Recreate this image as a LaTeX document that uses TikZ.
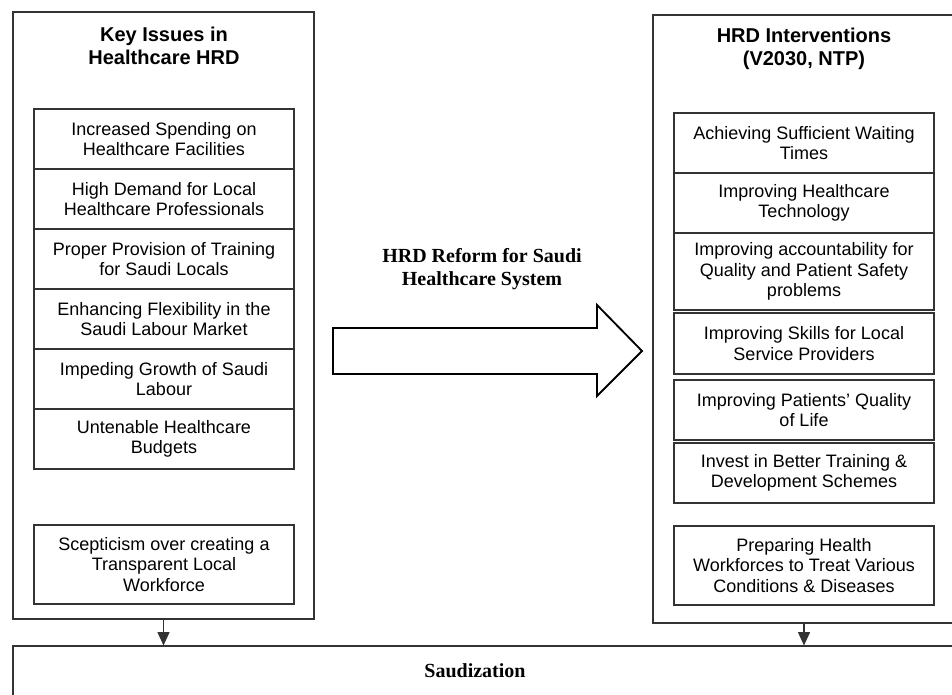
\documentclass[tikz,border=0pt]{standalone}
\usepackage{fontspec}
\setmainfont{Liberation Sans}
\newfontfamily\serifb{Liberation Serif}
\usetikzlibrary{arrows.meta}
\begin{document}
\begin{tikzpicture}[x=0.75pt,y=-0.75pt,
  outer/.style={draw=black!80,line width=0.8pt,inner sep=0pt},
  item/.style={draw=black!80,line width=0.8pt,minimum width=195pt,minimum height=45pt,inner sep=0pt,align=center,
    font=\fontsize{13.5pt}{15.5pt}\selectfont},
  ttl/.style={align=center,font=\fontsize{15pt}{17pt}\selectfont\bfseries},
  stl/.style={align=center,font=\fontsize{15pt}{17.5pt}\selectfont\serifb\bfseries},
  link/.style={draw=black!80,line width=0.8pt,-{Triangle[length=10pt,width=9pt]}}]
\useasboundingbox (0,0) rectangle (952,695);
\clip (0,0) rectangle (952,695);
% outer boxes
\node[outer,minimum width=225.75pt,minimum height=455.25pt] (left) at (163.5,315.5) {};
\node[outer,minimum width=226.5pt,minimum height=456pt] (right) at (804,319) {};
\node[outer,minimum width=706.5pt,minimum height=85.5pt] (bottom) at (484,703) {};
% titles
\node[ttl] (lt) at (164,46) {Key Issues in\\Healthcare HRD};
\node[ttl] (rt) at (804,49) {HRD Interventions\\(V2030, NTP)};
\node[stl,anchor=base] (sz) at (475,677) {Saudization};
\node[stl] (rf) at (482,269) {HRD Reform for Saudi\\Healthcare System};
% left items
\node[item] (l1) at (164,139) {Increased Spending on\\Healthcare Facilities};
\node[item] (l2) at (164,199) {High Demand for Local\\Healthcare Professionals};
\node[item] (l3) at (164,259) {Proper Provision of Training\\for Saudi Locals};
\node[item] (l4) at (164,319) {Enhancing Flexibility in the\\Saudi Labour Market};
\node[item] (l5) at (164,379) {Impeding Growth of Saudi\\Labour};
\node[item] (l6) at (164,439) {Untenable Healthcare\\Budgets};
\node[item,minimum height=59.25pt] (l7) at (164,564.5) {Scepticism over creating a\\Transparent Local\\Workforce};
% right items
\node[item] (r1) at (804,143) {Achieving Sufficient Waiting\\Times};
\node[item] (r2) at (804,203) {Improving Healthcare\\Technology};
\node[item,minimum height=57.75pt] (r3) at (804,271.5) {Improving accountability for\\Quality and Patient Safety\\problems};
\node[item,minimum height=45.75pt] (r4) at (804,343.5) {Improving Skills for Local\\Service Providers};
\node[item] (r5) at (804,410) {Improving Patients’ Quality\\of Life};
\node[item] (r6) at (804,473) {Invest in Better Training \&\\Development Schemes};
\node[item,minimum height=59.25pt] (r7) at (804,565.5) {Preparing Health\\Workforces to Treat Various\\Conditions \& Diseases};
% big arrow
\draw[line width=1.4pt,line join=miter] (333,328) -- (597,328) -- (597,305) -- (642,351) -- (597,396) -- (597,374) -- (333,374) -- cycle;
% connectors
\draw[link] (left.south) -- (left.south |- bottom.north);
\draw[link] (right.south) -- (right.south |- bottom.north);
\end{tikzpicture}
\end{document}
